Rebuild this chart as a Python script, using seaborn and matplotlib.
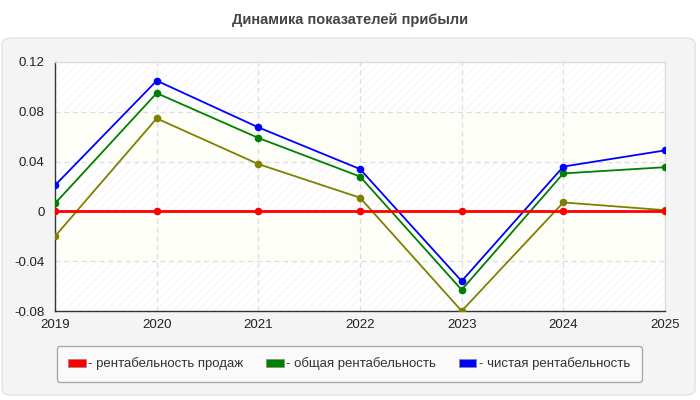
import numpy as np
import pandas as pd
import matplotlib.pyplot as plt
import seaborn as sns
from matplotlib.patches import FancyBboxPatch, Patch

# данные
years = [2019, 2020, 2021, 2022, 2023, 2024, 2025]
sales = [0, 0, 0, 0, 0, 0, 0]
total = [0.0064, 0.095, 0.059, 0.028, -0.063, 0.0305, 0.0355]
net = [0.021, 0.105, 0.0675, 0.034, -0.056, 0.036, 0.049]
other = [-0.020, 0.0747, 0.038, 0.011, -0.080, 0.0072, 0.001]

names = ["рентабельность продаж", "общая рентабельность", "чистая рентабельность", "прочее"]
colors = {"рентабельность продаж": "#ff0000", "общая рентабельность": "#008000",
          "чистая рентабельность": "#0000ff", "прочее": "#808000"}

df = pd.DataFrame({
    "year": years * 4,
    "value": other + total + net + sales,
    "series": ["прочее"] * 7 + ["общая рентабельность"] * 7 + ["чистая рентабельность"] * 7 + ["рентабельность продаж"] * 7,
})

sns.set_style("white")
plt.rcParams["font.family"] = ["Liberation Sans", "DejaVu Sans"]
plt.rcParams["hatch.linewidth"] = 0.6

fig = plt.figure(figsize=(7, 4), dpi=100)
fig.patch.set_facecolor("white")

# серая подложка
panel = FancyBboxPatch((0.003, 0.012), 0.99, 0.893, boxstyle="round,pad=0,rounding_size=0.015",
                       transform=fig.transFigure, facecolor="#f4f4f4", edgecolor="#e2e2e2",
                       linewidth=1, zorder=-10)
fig.patches.append(panel)

fig.text(0.5, 0.95, "Динамика показателей прибыли", ha="center", va="center",
         fontsize=10.5, fontweight="bold", color="#444444")

ax = fig.add_axes([0.0786, 0.2225, 0.8714, 0.6225])
ax.set_facecolor("white")

# полосы фона
ticks = [-0.08, -0.04, 0, 0.04, 0.08, 0.12]
for i in range(len(ticks) - 1):
    if i % 2 == 0:
        ax.axhspan(ticks[i], ticks[i + 1], facecolor="white", hatch="////",
                   edgecolor="#f3f3f3", linewidth=0, zorder=0)
    else:
        ax.axhspan(ticks[i], ticks[i + 1], facecolor="#fefef8", linewidth=0, zorder=0)

for y in ticks[1:-1]:
    ax.axhline(y, color="#dddddd", linestyle=(0, (4, 3)), linewidth=0.9, zorder=1)
for x in years[1:-1]:
    ax.axvline(x, color="#dddddd", linestyle=(0, (4, 3)), linewidth=0.9, zorder=1)

for name in ["прочее", "общая рентабельность", "чистая рентабельность", "рентабельность продаж"]:
    d = df[df["series"] == name]
    sns.lineplot(data=d, x="year", y="value", ax=ax, color=colors[name],
                 linewidth=2.0 if name == "рентабельность продаж" else 1.3,
                 marker="o", markersize=5.5, markeredgewidth=0, zorder=3, legend=False)

ax.set_xlim(2019, 2025)
ax.set_ylim(-0.08, 0.12)
ax.set_xticks(years)
ax.set_yticks(ticks)
ax.set_yticklabels(["-0.08", "-0.04", "0", "0.04", "0.08", "0.12"])
ax.set_xlabel("")
ax.set_ylabel("")
ax.tick_params(axis="both", labelsize=9.5, colors="#333333", length=4, width=0.8, direction="out")
ax.tick_params(axis="both", labelcolor="#222222")
ax.tick_params(axis="x", pad=2)
for s in ["left", "bottom"]:
    ax.spines[s].set_color("#333333")
    ax.spines[s].set_linewidth(1)
for s in ["top", "right"]:
    ax.spines[s].set_color("#dddddd")
    ax.spines[s].set_linewidth(1)

handles = [Patch(facecolor=colors[n], edgecolor="#888888", linewidth=0.5) for n in names[:3]]
leg = fig.legend(handles, ["- " + n for n in names[:3]], loc="center",
                 bbox_to_anchor=(0.4986, 0.09), ncol=3, fontsize=9.5, frameon=True,
                 fancybox=True, handlelength=1.35, handleheight=0.55, handletextpad=0.2,
                 columnspacing=1.7, borderpad=0.85)
leg.get_frame().set_facecolor("#fafafa")
leg.get_frame().set_edgecolor("#aaaaaa")
leg.get_frame().set_alpha(1)
for t in leg.get_texts():
    t.set_color("#333333")

fig.savefig("out.png", dpi=100)
